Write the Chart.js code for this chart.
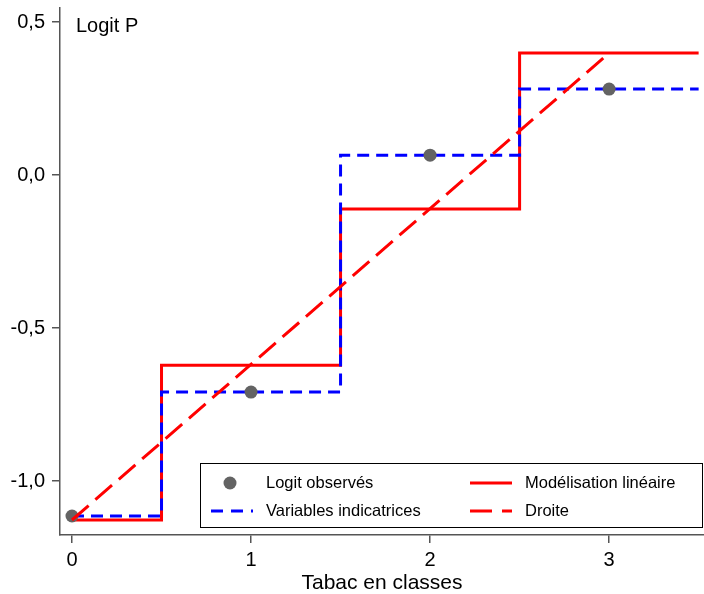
<!DOCTYPE html>
<html><head><meta charset="utf-8">
<script src="https://cdn.jsdelivr.net/npm/chart.js@4/dist/chart.umd.min.js"></script>
<style>html,body{margin:0;padding:0;background:#fff}#wrap{width:704px;height:594px;position:relative}canvas{display:block}</style>
</head><body><div id="wrap"><canvas id="c" width="704" height="594"></canvas></div>
<script>
// ---- data ----
const classes = [0, 1, 2, 3];
const logitObserves = [-1.114, -0.709, 0.065, 0.281];
const variablesIndicatrices = [-1.114, -0.709, 0.065, 0.281];
const modelisationLineaire = [-1.127, -0.621, -0.111, 0.399];
const droiteX = [0, 3];
const droiteY = [-1.127, 0.399];
const xTicks = [0, 1, 2, 3];
const yTicks = [-1.0, -0.5, 0.0, 0.5];
const xEnd = 3.5;
const yTitle = 'Logit P';
const xTitle = 'Tabac en classes';
const legendLabels = ['Logit observés', 'Variables indicatrices', 'Modélisation linéaire', 'Droite'];

const FONT = '"Liberation Sans", Arial, Helvetica, sans-serif';
const RED = '#ff0000', BLUE = '#0000ff', GREY = '#636363', AXIS = '#555555';

function stepData(vals) {
  const pts = classes.map((x, i) => ({x, y: vals[i]}));
  pts.push({x: xEnd, y: vals[vals.length - 1]});
  return pts;
}

const overlay = {
  id: 'overlay',
  afterDraw(chart) {
    const ctx = chart.ctx;
    const a = chart.chartArea;
    ctx.save();
    // y title inside plot
    ctx.fillStyle = '#000';
    ctx.font = '20px ' + FONT;
    ctx.textBaseline = 'alphabetic';
    ctx.textAlign = 'left';
    ctx.fillText(yTitle, a.left + 16, a.top + 24);
    // legend box
    const bx = a.left + 140, by = a.bottom - 72, bw = a.right - 2 - bx, bh = 64;
    ctx.fillStyle = '#fff';
    ctx.fillRect(bx, by, bw, bh);
    ctx.strokeStyle = '#000';
    ctx.lineWidth = 1;
    ctx.strokeRect(bx + 0.5, by + 0.5, bw, bh);
    const r1 = by + 20, r2 = by + 48;
    const c1 = bx + 11, c2 = bx + 270;
    // dot
    ctx.fillStyle = GREY;
    ctx.beginPath(); ctx.arc(c1 + 19, r1, 6.5, 0, Math.PI * 2); ctx.fill();
    // blue dashed
    ctx.lineWidth = 3;
    ctx.strokeStyle = BLUE; ctx.setLineDash([12, 8]);
    ctx.beginPath(); ctx.moveTo(c1, r2); ctx.lineTo(c1 + 42, r2); ctx.stroke();
    // red solid
    ctx.strokeStyle = RED; ctx.setLineDash([]);
    ctx.beginPath(); ctx.moveTo(c2, r1); ctx.lineTo(c2 + 42, r1); ctx.stroke();
    // red dashed
    ctx.setLineDash([22, 10]);
    ctx.beginPath(); ctx.moveTo(c2, r2); ctx.lineTo(c2 + 42, r2); ctx.stroke();
    ctx.setLineDash([]);
    ctx.fillStyle = '#000';
    ctx.font = '16.5px ' + FONT;
    ctx.textBaseline = 'middle';
    ctx.fillText(legendLabels[0], c1 + 55, r1);
    ctx.fillText(legendLabels[1], c1 + 55, r2);
    ctx.fillText(legendLabels[2], c2 + 55, r1);
    ctx.fillText(legendLabels[3], c2 + 55, r2);
    ctx.restore();
  }
};

function noPad(s) { s.paddingTop = 0; s.paddingBottom = 0; s.paddingLeft = 0; s.paddingRight = 0; }

new Chart(document.getElementById('c'), {
  type: 'scatter',
  data: {
    datasets: [
      {
        label: legendLabels[3],
        data: droiteX.map((x, i) => ({x, y: droiteY[i]})),
        showLine: true, borderColor: RED, borderWidth: 3, borderDash: [22, 9],
        pointRadius: 0, fill: false
      },
      {
        label: legendLabels[0],
        data: classes.map((x, i) => ({x, y: logitObserves[i]})),
        showLine: false, pointRadius: 6.5, pointBackgroundColor: GREY,
        pointBorderWidth: 0, pointBorderColor: GREY
      },
      {
        label: legendLabels[1],
        data: stepData(variablesIndicatrices),
        showLine: true, stepped: 'middle', borderColor: BLUE, borderWidth: 3, borderDash: [12, 7],
        pointRadius: 0, fill: false
      },
      {
        label: legendLabels[2],
        data: stepData(modelisationLineaire),
        showLine: true, stepped: 'middle', borderColor: RED, borderWidth: 3,
        pointRadius: 0, fill: false
      }
    ]
  },
  options: {
    responsive: false,
    maintainAspectRatio: false,
    animation: false,
    devicePixelRatio: 1,
    layout: {autoPadding: false, padding: {top: 8, right: 0, left: 0, bottom: 0}},
    plugins: {legend: {display: false}, tooltip: {enabled: false}},
    scales: {
      x: {
        type: 'linear', min: -0.067, max: 3.53,
        afterBuildTicks: s => { s.ticks = xTicks.map(v => ({value: v})); },
        afterFit: s => { s.height = 59; noPad(s); },
        ticks: {color: '#000', font: {family: FONT, size: 20}, padding: 5, callback: v => String(v)},
        grid: {drawOnChartArea: false, drawTicks: true, tickLength: 8, color: AXIS, lineWidth: 1.5},
        border: {display: true, color: AXIS, width: 1.5},
        title: {display: true, text: xTitle, color: '#000', font: {family: FONT, size: 21, lineHeight: 1.0}, padding: {top: 0, bottom: 0}}
      },
      y: {
        type: 'linear', min: -1.176, max: 0.546,
        afterBuildTicks: s => { s.ticks = yTicks.map(v => ({value: v})); },
        afterFit: s => { s.width = 60; noPad(s); },
        ticks: {color: '#000', font: {family: FONT, size: 20}, padding: 7, callback: v => v.toFixed(1).replace('.', ',')},
        grid: {drawOnChartArea: false, drawTicks: true, tickLength: 8, color: AXIS, lineWidth: 1.5},
        border: {display: true, color: AXIS, width: 1.5}
      }
    }
  },
  plugins: [overlay]
});
</script></body></html>
